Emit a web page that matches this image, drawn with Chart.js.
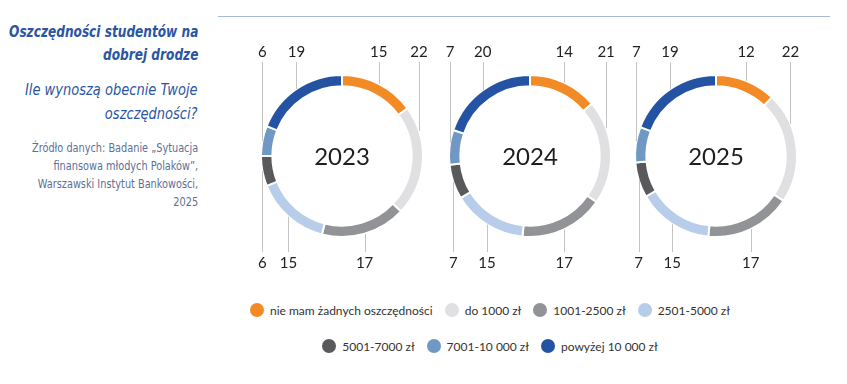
<!DOCTYPE html>
<html lang="pl">
<head>
<meta charset="utf-8">
<script src="https://cdn.jsdelivr.net/npm/chart.js@4.4.0/dist/chart.umd.min.js"></script>
<style>
  body { margin: 0; background: #fff; width: 847px; height: 384px; position: relative; overflow: hidden; }
  .side { position: absolute; right: 649px; text-align: right; white-space: nowrap; transform-origin: right top;
          font-family: "DejaVu Sans", sans-serif; font-stretch: condensed; }
  #title { top: 20px; font-size: 16px; font-weight: bold; font-style: italic; color: #2a55a3; line-height: 23px; }
  #subtitle { top: 78px; font-size: 16px; font-style: italic; color: #2a55a3; line-height: 24px; }
  #source { top: 139px; font-size: 12px; color: #5d6f96; line-height: 18px; }
  #rule { position: absolute; left: 218px; top: 16px; width: 612px; height: 0; border-top: 1.5px solid #a9b9d2; }
  .ring { position: absolute; top: 20px; }
  #legend { position: absolute; left: 225px; top: 300px; width: 530px; display: flex; flex-wrap: wrap; justify-content: center; row-gap: 16px;
            font-family: Lato, "Open Sans", sans-serif; font-size: 12px; color: #333; }
  .item { display: flex; align-items: center; margin: 0 6px; height: 20px; }
  .dot { width: 14px; height: 14px; border-radius: 50%; margin-right: 6px; }
</style>
</head>
<body>
<div id="title" class="side">Oszczędności studentów na<br>dobrej drodze</div>
<div id="subtitle" class="side">Ile wynoszą obecnie Twoje<br>oszczędności?</div>
<div id="source" class="side">Źródło danych: Badanie „Sytuacja<br>finansowa młodych Polaków”,<br>Warszawski Instytut Bankowości,<br>2025</div>
<div id="rule"></div>

<canvas id="c2023" class="ring" width="186" height="272" style="left:249px"></canvas>
<canvas id="c2024" class="ring" width="186" height="272" style="left:437px"></canvas>
<canvas id="c2025" class="ring" width="186" height="272" style="left:623px"></canvas>

<div id="legend"></div>

<script>
const categories = ['nie mam żadnych oszczędności', 'do 1000 zł', '1001-2500 zł', '2501-5000 zł',
                    '5001-7000 zł', '7001-10 000 zł', 'powyżej 10 000 zł'];
const years = ['2023', '2024', '2025'];
const values2023 = [15, 22, 17, 15, 6, 6, 19];
const values2024 = [14, 21, 17, 15, 7, 7, 20];
const values2025 = [12, 22, 17, 15, 7, 7, 19];
const colors = ['#f28a26', '#e0e0e2', '#929396', '#b7cde9', '#59595b', '#7098c5', '#2553a4'];
// which side of the ring each value label sits on
const labelSide = ['top', 'top', 'bottom', 'bottom', 'bottom', 'top', 'top'];

const ringLabels = {
  id: 'ringLabels',
  afterDatasetsDraw(chart) {
    const ctx = chart.ctx;
    const meta = chart.getDatasetMeta(0);
    const data = chart.data.datasets[0].data;
    const cx = meta.data[0].x, cy = meta.data[0].y;
    ctx.save();
    ctx.font = '15px Lato, "Open Sans", sans-serif';
    ctx.fillStyle = '#222';
    ctx.textAlign = 'center';
    ctx.textBaseline = 'middle';
    meta.data.forEach((arc, i) => {
      const p = arc.getProps(['startAngle', 'endAngle', 'outerRadius'], true);
      const ranges = labelSide[i] === 'top'
        ? [[-Math.PI / 2, 0], [Math.PI, 1.5 * Math.PI]]
        : [[0, Math.PI]];
      let best = null;
      ranges.forEach(r => {
        const s = Math.max(p.startAngle, r[0]), e = Math.min(p.endAngle, r[1]);
        if (e > s && (!best || e - s > best[1] - best[0])) best = [s, e];
      });
      if (!best) best = [p.startAngle, p.endAngle];
      const m = (best[0] + best[1]) / 2;
      const R = p.outerRadius;
      const px = cx + R * Math.cos(m), py = cy + R * Math.sin(m);
      const top = labelSide[i] === 'top';
      const ly = top ? cy - 104 : cy + 107;
      ctx.strokeStyle = '#c4c4c4';
      ctx.lineWidth = 1;
      ctx.beginPath();
      ctx.moveTo(Math.round(px) + 0.5, top ? ly + 10 : ly - 11);
      ctx.lineTo(Math.round(px) + 0.5, py);
      ctx.stroke();
      ctx.fillText(String(data[i]), px, ly);
    });
    ctx.font = '24px Lato, "Open Sans", sans-serif';
    ctx.fillStyle = '#1e1e1e';
    ctx.fillText(chart.options.plugins.centerText, cx, cy + 1);
    ctx.restore();
  }
};

function ring(id, year, values) {
  return new Chart(document.getElementById(id), {
    type: 'doughnut',
    data: {
      labels: categories,
      datasets: [{
        data: values,
        backgroundColor: colors,
        borderColor: '#fff',
        borderWidth: 2,
      }],
    },
    options: {
      responsive: false,
      animation: false,
      cutout: '86%',
      layout: { padding: { top: 54, bottom: 54, left: 10, right: 10 } },
      plugins: {
        legend: { display: false },
        tooltip: { enabled: false },
        centerText: year,
      },
    },
    plugins: [ringLabels],
  });
}

ring('c2023', years[0], values2023);
ring('c2024', years[1], values2024);
ring('c2025', years[2], values2025);

const legend = document.getElementById('legend');
categories.forEach((name, i) => {
  const item = document.createElement('div');
  item.className = 'item';
  item.innerHTML = '<span class="dot" style="background:' + colors[i] + '"></span>' + name;
  legend.appendChild(item);
});

// squeeze the side texts to the widths of the original layout
[['title', 189], ['subtitle', 173], ['source', 166]].forEach(([id, w]) => {
  const el = document.getElementById(id);
  const s = w / el.offsetWidth;
  el.style.transform = 'scaleX(' + s + ')';
});
</script>
</body>
</html>
